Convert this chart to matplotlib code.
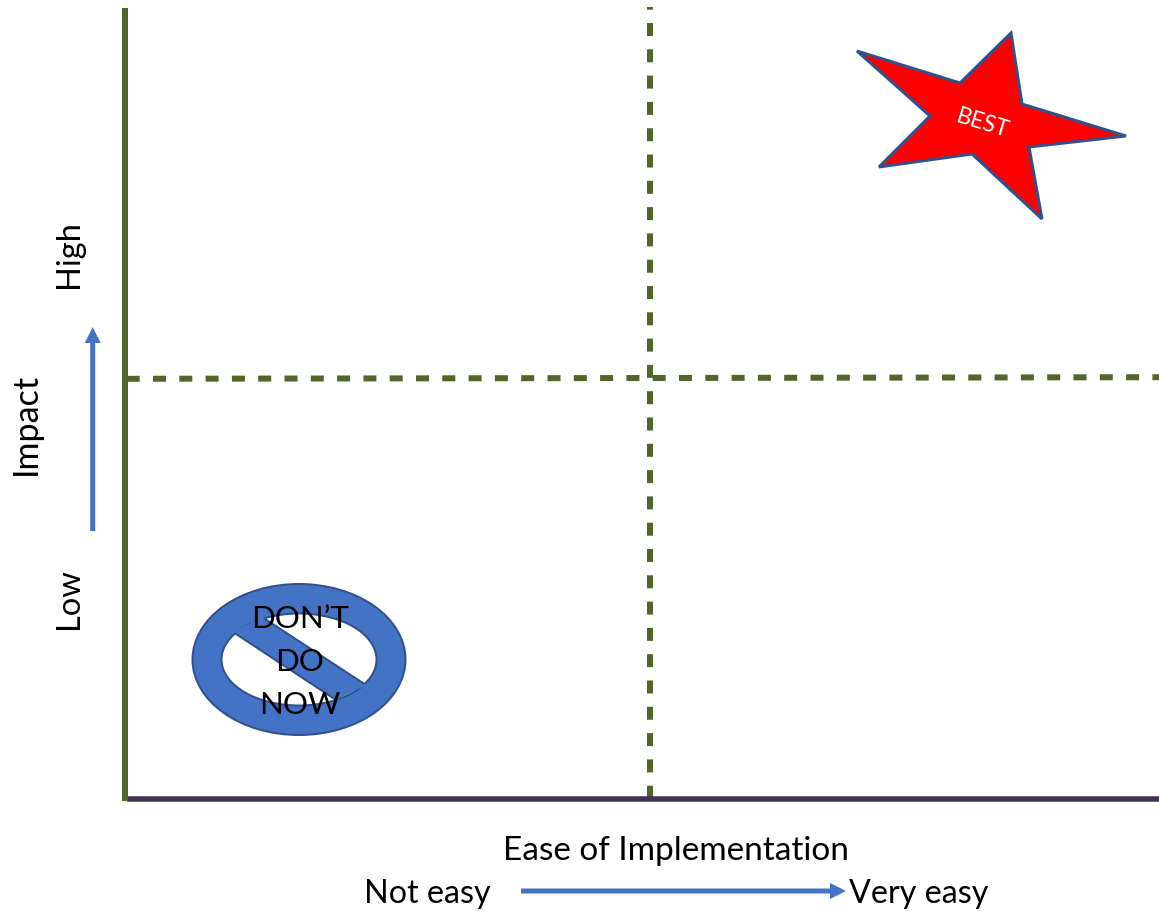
"""Impact vs ease of implementation quadrant diagram, laid out in pixel coordinates."""

import matplotlib
matplotlib.use("Agg")
import matplotlib.pyplot as plt
from matplotlib.patches import Ellipse, Polygon

# Canvas
WIDTH = 1159
HEIGHT = 911

# Colours
AXIS_GREEN = "#526629"
AXIS_PURPLE = "#403152"
ARROW_BLUE = "#4472c4"
EDGE_BLUE = "#2f528f"
STAR_RED = "#ff0000"

# Frame lines and quadrant dividers
left_axis_x = [124.5, 124.5]
left_axis_y = [8, 801]
bottom_axis_x = [127, 1159]
bottom_axis_y = [799, 799]
divider_v_x = [650, 650]
divider_v_y = [7, 801]
divider_h_x = [126.7, 1159]
divider_h_y = [378.8, 377.2]

# Star outline
star_x = [857, 960, 1011, 1022, 1126, 1029, 1042, 972, 879, 930]
star_y = [51, 83, 33, 104, 136, 147, 219, 154, 167, 116]

# Prohibition sign
sign_center = (299, 659.5)
sign_outer = (213, 151)
sign_inner = (155, 92)
bar_x = [233, 262, 366, 336]
bar_y = [632, 617, 685, 700]

# Text
x_title = "Ease of Implementation"
x_low = "Not easy"
x_high = "Very easy"
y_title = "Impact"
y_high = "High"
y_low = "Low"
star_label = "BEST"
sign_lines = ["DON\u2019T", "DO", "NOW"]

plt.rcParams["font.family"] = ["Lato", "DejaVu Sans"]
plt.rcParams["lines.scale_dashes"] = False

fig = plt.figure(figsize=(WIDTH / 100, HEIGHT / 100), dpi=100)
ax = fig.add_axes([0, 0, 1, 1])
ax.set_xlim(0, WIDTH)
ax.set_ylim(HEIGHT, 0)
ax.axis("off")

px = 72 / 100  # points per pixel

# Dividers first so the solid frame lines sit on top
ax.plot(divider_v_x, divider_v_y, color=AXIS_GREEN, lw=6 * px,
        linestyle=(10.3 * px, (13 * px, 13.3 * px)), dash_capstyle="butt", zorder=1)
ax.plot(divider_h_x, divider_h_y, color=AXIS_GREEN, lw=6 * px,
        linestyle=(0, (13 * px, 13.3 * px)), dash_capstyle="butt", zorder=1)
ax.plot(bottom_axis_x, bottom_axis_y, color=AXIS_PURPLE, lw=5.5 * px,
        solid_capstyle="butt", zorder=2)
ax.plot(left_axis_x, left_axis_y, color=AXIS_GREEN, lw=6 * px,
        solid_capstyle="butt", zorder=3)

# Direction arrows
ax.arrow(92.7, 531, 0, -204, width=5, head_width=16, head_length=16,
         length_includes_head=True, color=ARROW_BLUE, lw=0, zorder=2)
ax.arrow(521, 891, 325, 0, width=5, head_width=16, head_length=16,
         length_includes_head=True, color=ARROW_BLUE, lw=0, zorder=2)

# Star
ax.add_patch(Polygon(list(zip(star_x, star_y)), closed=True, facecolor=STAR_RED,
                     edgecolor=EDGE_BLUE, lw=3 * px, joinstyle="miter", zorder=4))
ax.text(982.5, 124, star_label, color="white", fontsize=16.5, rotation=-17,
        ha="center", va="center", rotation_mode="anchor", zorder=5)

# Prohibition sign: ring, then the bar fill running into the ring so the hole's
# outline is hidden under it, then the bar's long edges inside the hole only
ax.add_patch(Ellipse(sign_center, *sign_outer, facecolor=ARROW_BLUE,
                     edgecolor=EDGE_BLUE, lw=2 * px, zorder=4))
hole = Ellipse(sign_center, *sign_inner, facecolor="white",
               edgecolor=EDGE_BLUE, lw=2 * px, zorder=4)
ax.add_patch(hole)
bar_clip = Ellipse(sign_center, sign_inner[0] + 8, sign_inner[1] + 8,
                   transform=ax.transData)
bar = Polygon(list(zip(bar_x, bar_y)), closed=True, facecolor=ARROW_BLUE,
              edgecolor="none", zorder=4)
ax.add_patch(bar)
bar.set_clip_path(bar_clip)
for i, j in ((0, 3), (1, 2)):
    edge, = ax.plot([bar_x[i], bar_x[j]], [bar_y[i], bar_y[j]], color=EDGE_BLUE,
                    lw=2 * px, solid_capstyle="butt", zorder=4)
    edge.set_clip_path(hole)

ax.text(300, 619, sign_lines[0], color="black", fontsize=22.5, ha="center", va="center", zorder=6)
ax.text(300, 662, sign_lines[1], color="black", fontsize=22.5, ha="center", va="center", zorder=6)
ax.text(300, 705, sign_lines[2], color="black", fontsize=22.5, ha="center", va="center", zorder=6)

# Axis captions
ax.text(676, 851, x_title, color="black", fontsize=24, ha="center", va="center", zorder=6)
ax.text(427, 894, x_low, color="black", fontsize=23.2, ha="center", va="center", zorder=6)
ax.text(919, 894, x_high, color="black", fontsize=23.2, ha="center", va="center", zorder=6)
ax.text(26, 424, y_title, color="black", fontsize=24.5, rotation=90, ha="center", va="center", zorder=6)
ax.text(69, 254, y_high, color="black", fontsize=23.5, rotation=90, ha="center", va="center", zorder=6)
ax.text(69, 599, y_low, color="black", fontsize=23.5, rotation=90, ha="center", va="center", zorder=6)

fig.savefig("out.png", dpi=100, facecolor="white")
plt.close(fig)
